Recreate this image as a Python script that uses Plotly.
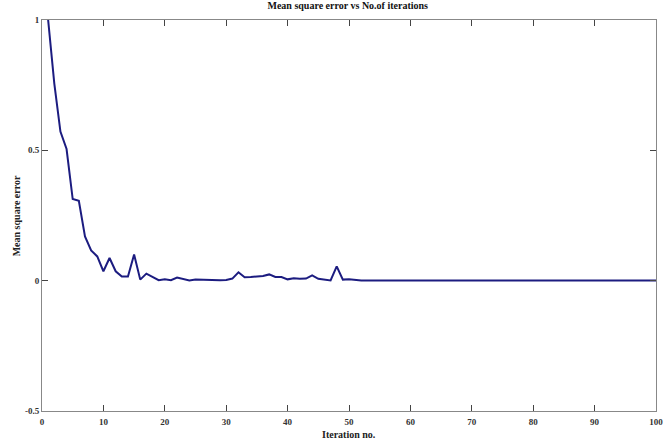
import plotly.graph_objects as go

iterations = list(range(1, 101))
mse = [
    1.0, 0.757, 0.572, 0.505, 0.313, 0.306, 0.17, 0.116, 0.093, 0.036,
    0.087, 0.036, 0.016, 0.016, 0.1, 0.004, 0.027, 0.016, 0.002, 0.005,
    0.002, 0.012, 0.006, 0.001, 0.004, 0.003, 0.004, 0.003, 0.002, 0.003,
    0.008, 0.032, 0.013, 0.014, 0.015, 0.018, 0.024, 0.014, 0.014, 0.005,
    0.009, 0.007, 0.008, 0.02, 0.007, 0.004, 0.001, 0.055, 0.004, 0.005,
    0.002, 0.001, 0.001, 0.001, 0.001, 0.001, 0.001, 0.001, 0.001, 0.001,
    0.001, 0.001, 0.001, 0.001, 0.001, 0.001, 0.001, 0.001, 0.001, 0.001,
    0.001, 0.001, 0.001, 0.001, 0.001, 0.001, 0.001, 0.001, 0.001, 0.001,
    0.001, 0.001, 0.001, 0.001, 0.001, 0.001, 0.001, 0.001, 0.001, 0.001,
    0.001, 0.001, 0.001, 0.001, 0.001, 0.001, 0.001, 0.001, 0.001, 0.001,
]
x_ticks = [0, 10, 20, 30, 40, 50, 60, 70, 80, 90, 100]
y_ticks = [-0.5, 0, 0.5, 1]
y_tick_labels = ["-0.5", "0", "0.5", "1"]

font_family = "Liberation Serif"

fig = go.Figure()
fig.add_trace(go.Scatter(
    x=iterations, y=mse, mode="lines",
    line=dict(color="#1c1c80", width=2),
    showlegend=False,
))

fig.update_layout(
    width=670, height=443,
    margin=dict(l=42, r=14, t=20, b=32),
    paper_bgcolor="white", plot_bgcolor="white",
    title=dict(
        text="<b>Mean square error vs No.of iterations</b>",
        x=0.519, xanchor="center", y=0.995, yanchor="top",
        font=dict(family=font_family, size=10, color="#111"),
    ),
    font=dict(family=font_family, color="#222"),
)

fig.add_annotation(
    text="<b>Mean square error</b>", textangle=-90,
    xref="paper", yref="paper", x=-0.041, y=0.5,
    xanchor="center", yanchor="middle", showarrow=False,
    font=dict(family=font_family, size=10, color="#222"),
)
fig.add_annotation(
    text="<b>Iteration no.</b>",
    xref="paper", yref="paper", x=0.5, y=-0.059,
    xanchor="center", yanchor="middle", showarrow=False,
    font=dict(family=font_family, size=10, color="#222"),
)

fig.update_xaxes(
    range=[0, 100], tickvals=x_ticks,
    ticktext=[f"<b>{t}</b>" for t in x_ticks],
    showgrid=False, zeroline=False, automargin=False,
    showline=True, linecolor="#888", linewidth=1, mirror="allticks",
    ticks="inside", ticklen=6, tickcolor="#444",
    ticklabelstandoff=2,
    tickfont=dict(family=font_family, size=9, color="#333"),
)
fig.update_yaxes(
    range=[-0.5, 1], tickvals=y_ticks,
    ticktext=[f"<b>{t}</b>" for t in y_tick_labels],
    showgrid=False, zeroline=False, automargin=False,
    showline=True, linecolor="#888", linewidth=1, mirror="allticks",
    ticks="inside", ticklen=6, tickcolor="#444",
    tickfont=dict(family=font_family, size=9, color="#333"),
)

fig.write_html("out.html")
